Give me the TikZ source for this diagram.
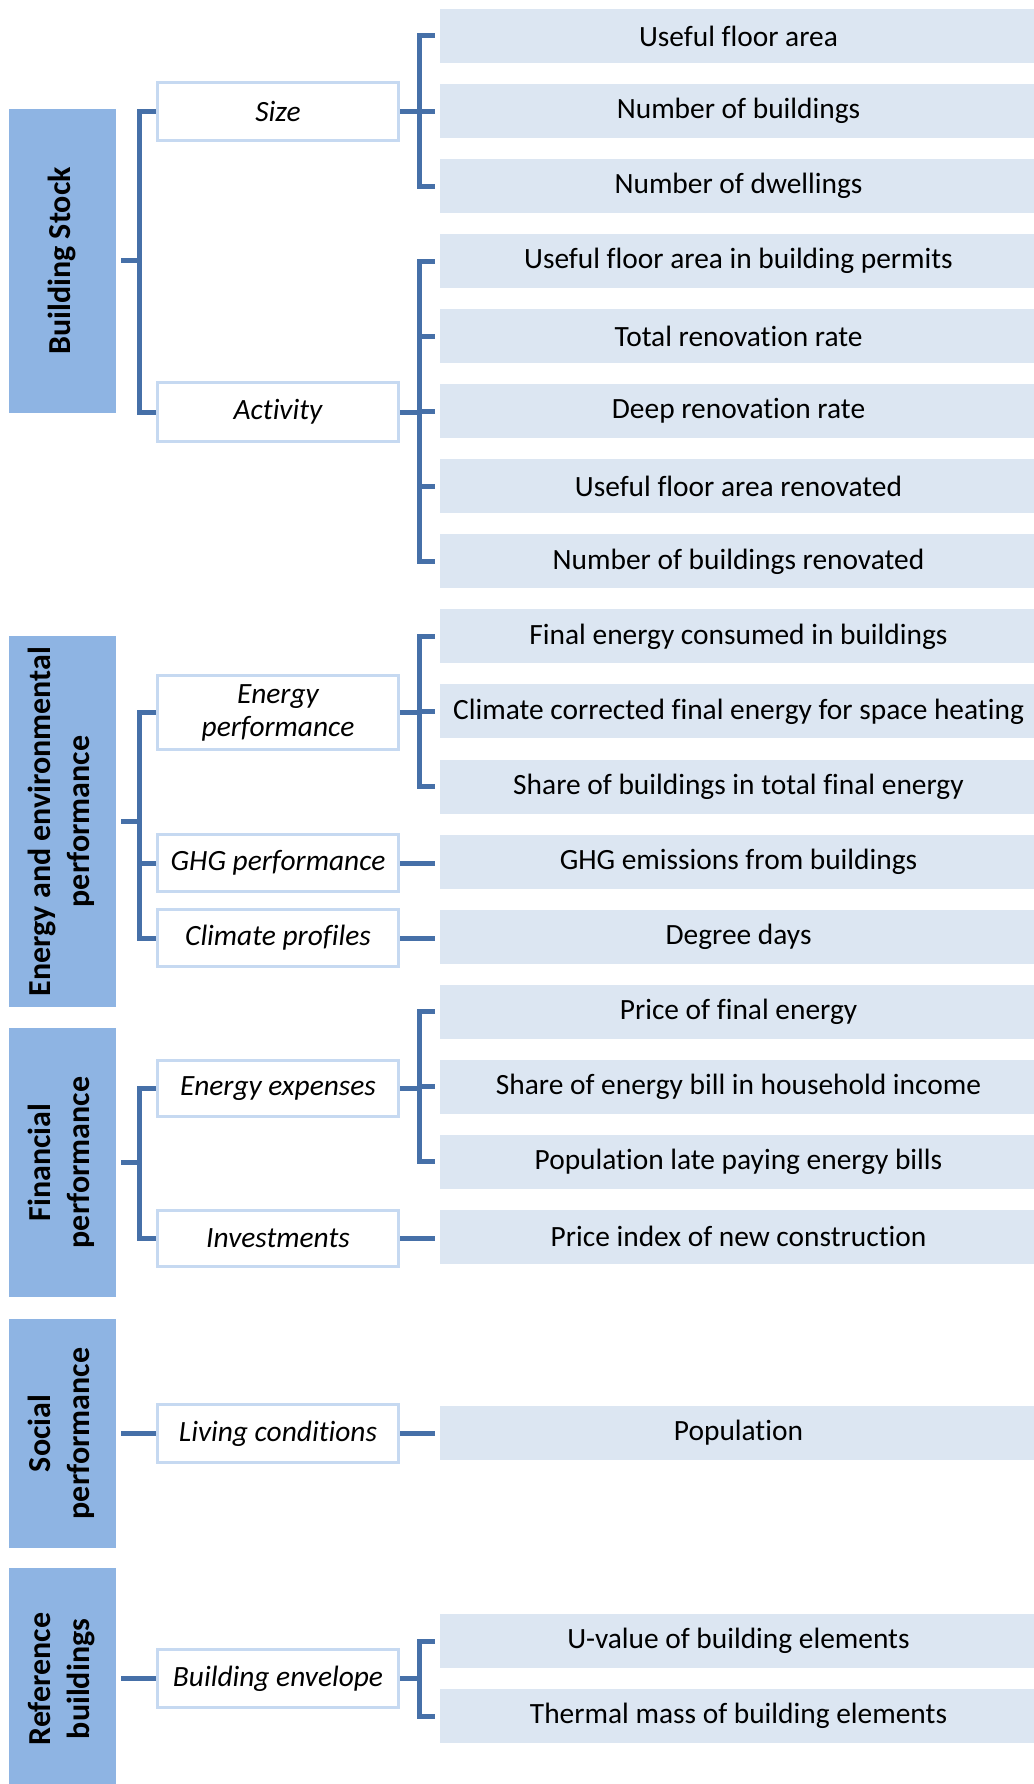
\documentclass[tikz,border=0pt]{standalone}
\usepackage{fontspec}
\setmainfont{Carlito}[Ligatures={NoCommon}]
\usepackage{graphicx}
\usetikzlibrary{calc}
\definecolor{catfill}{HTML}{8EB4E3}
\definecolor{leaffill}{HTML}{DCE6F2}
\definecolor{midline}{HTML}{C6D9F1}
\definecolor{connc}{HTML}{4670A8}
\newcommand{\rottext}[1]{\rotatebox{90}{\begin{tabular}{@{}c@{}}#1\end{tabular}}}
\begin{document}
\begin{tikzpicture}[x=1pt,y=-1pt,
  catbox/.style={fill=catfill, draw=none, minimum width=107pt, inner sep=0pt,
    font=\fontsize{32}{39}\selectfont\bfseries},
  midbox/.style={draw=midline, line width=3.5pt, fill=white, minimum width=241pt,
    inner sep=0pt, align=center, font=\fontsize{29.4}{33}\selectfont\itshape},
  leafbox/.style={fill=leaffill, draw=none, minimum width=597pt, minimum height=54pt,
    inner sep=0pt, font=\fontsize{29.4}{34}\selectfont},
  conn/.style={draw=connc, line width=5pt, line join=miter}
]
\useasboundingbox (0,0) rectangle (1033,1784);
% category boxes
\node[catbox, minimum height=304pt] (bs) at (62.5,261) {\rottext{Building Stock}};
\node[catbox, minimum height=371pt] (ee) at (62.5,821.5) {\rottext{Energy and environmental\\performance}};
\node[catbox, minimum height=269pt] (fin) at (62.5,1162.5) {\rottext{Financial\\performance}};
\node[catbox, minimum height=229pt] (soc) at (62.5,1433.5) {\rottext{Social\\performance}};
\node[catbox, minimum height=222pt] (ref) at (62.5,1679) {\rottext{Reference\\buildings}};
% middle boxes
\node[midbox, minimum height=58pt] (size) at (278,111.5) {Size};
\node[midbox, minimum height=59pt] (act) at (278,412) {Activity};
\node[midbox, minimum height=74pt] (ep) at (278,712.5) {Energy\\performance};
\node[midbox, minimum height=57pt] (ghg) at (278,863) {GHG performance};
\node[midbox, minimum height=57pt] (clim) at (278,938) {Climate profiles};
\node[midbox, minimum height=56pt] (exp) at (278,1088.5) {Energy expenses};
\node[midbox, minimum height=56pt] (inv) at (278,1238.5) {Investments};
\node[midbox, minimum height=58pt] (liv) at (278,1433.5) {Living conditions};
\node[midbox, minimum height=58pt] (env) at (278,1678.5) {Building envelope};
% leaves
\foreach \i/\t in {1/Useful floor area, 2/Number of buildings, 3/Number of dwellings,
  4/Useful floor area in building permits, 5/Total renovation rate, 6/Deep renovation rate,
  7/Useful floor area renovated, 8/Number of buildings renovated,
  9/Final energy consumed in buildings, 10/Climate corrected final energy for space heating,
  11/Share of buildings in total final energy, 12/GHG emissions from buildings,
  13/Degree days, 14/Price of final energy, 15/Share of energy bill in household income,
  16/Population late paying energy bills, 17/Price index of new construction}
  \node[leafbox] (l\i) at (738.5,{36+75.05*(\i-1)}) {\t};
\node[leafbox] (l18) at (738.5,1432.5) {Population};
\node[leafbox] (l19) at (738.5,1641) {U-value of building elements};
\node[leafbox] (l20) at (738.5,1716) {Thermal mass of building elements};
% bar positions
\coordinate (Lbar) at (139,0);
\coordinate (Rbar) at (419,0);
% left connectors
\draw[conn] ([xshift=5pt]bs.east) -- (Lbar |- bs.east);
\draw[conn] (size.west) -- (Lbar |- size.west) -- (Lbar |- act.west) -- (act.west);
\draw[conn] ([xshift=5pt]ee.east) -- (Lbar |- ee.east);
\draw[conn] (ep.west) -- (Lbar |- ep.west) -- (Lbar |- clim.west) -- (clim.west);
\draw[conn] (ghg.west) -- (Lbar |- ghg.west);
\draw[conn] ([xshift=5pt]fin.east) -- (Lbar |- fin.east);
\draw[conn] (exp.west) -- (Lbar |- exp.west) -- (Lbar |- inv.west) -- (inv.west);
\draw[conn] ([xshift=5pt]soc.east |- liv.west) -- (liv.west);
\draw[conn] ([xshift=5pt]ref.east |- env.west) -- (env.west);
% right connectors
\draw[conn] (size.east) -- (Rbar |- size.east);
\draw[conn] ([xshift=-5pt]l1.west) -- (Rbar |- l1.west) -- (Rbar |- l3.west) -- ([xshift=-5pt]l3.west);
\draw[conn] ([xshift=-5pt]l2.west) -- (Rbar |- l2.west);
\draw[conn] (act.east) -- (Rbar |- act.east);
\draw[conn] ([xshift=-5pt]l4.west) -- (Rbar |- l4.west) -- (Rbar |- l8.west) -- ([xshift=-5pt]l8.west);
\foreach \i in {5,6,7} \draw[conn] ([xshift=-5pt]l\i.west) -- (Rbar |- l\i.west);
\draw[conn] (ep.east) -- (Rbar |- ep.east);
\draw[conn] ([xshift=-5pt]l9.west) -- (Rbar |- l9.west) -- (Rbar |- l11.west) -- ([xshift=-5pt]l11.west);
\draw[conn] ([xshift=-5pt]l10.west) -- (Rbar |- l10.west);
\draw[conn] (ghg.east) -- ([xshift=-5pt]l12.west |- ghg.east);
\draw[conn] (clim.east) -- ([xshift=-5pt]l13.west |- clim.east);
\draw[conn] (exp.east) -- (Rbar |- exp.east);
\draw[conn] ([xshift=-5pt]l14.west) -- (Rbar |- l14.west) -- (Rbar |- l16.west) -- ([xshift=-5pt]l16.west);
\draw[conn] ([xshift=-5pt]l15.west) -- (Rbar |- l15.west);
\draw[conn] (inv.east) -- ([xshift=-5pt]l17.west |- inv.east);
\draw[conn] (liv.east) -- ([xshift=-5pt]l18.west |- liv.east);
\draw[conn] (env.east) -- (Rbar |- env.east);
\draw[conn] ([xshift=-5pt]l19.west) -- (Rbar |- l19.west) -- (Rbar |- l20.west) -- ([xshift=-5pt]l20.west);
\end{tikzpicture}
\end{document}
